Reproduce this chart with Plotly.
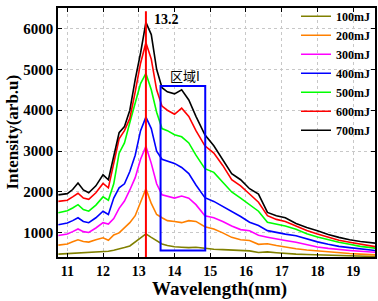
import plotly.graph_objects as go

wavelength = [10.75, 11.0, 11.15, 11.3, 11.45, 11.6, 11.8, 12.0, 12.15, 12.3, 12.45, 12.6, 12.75, 12.9,
              13.05, 13.2, 13.35, 13.5, 13.65, 13.8, 14.0, 14.2, 14.4, 14.6, 14.85, 15.1, 15.35, 15.6,
              15.85, 16.1, 16.35, 16.6, 16.85, 17.1, 17.4, 17.7, 18.0, 18.3, 18.6, 18.9, 19.2, 19.5, 19.7]

e100 = [480, 490, 500, 515, 510, 515, 525, 540, 550, 575, 600, 640, 680, 780, 870, 975, 890, 800, 730, 690,
        660, 650, 640, 650, 620, 600, 590, 575, 560, 560, 520, 535, 515, 495, 480, 470, 460, 450, 445, 440,
        432, 425, 420]
e200 = [700, 730, 780, 830, 790, 775, 830, 880, 820, 950, 1000, 1130, 1250, 1420, 1750, 2080, 1720, 1450,
        1370, 1300, 1280, 1250, 1300, 1280, 1150, 1095, 1000, 890, 830, 815, 720, 735, 690, 650, 610, 580,
        555, 530, 510, 495, 480, 465, 458]
e300 = [935, 970, 1030, 1095, 1030, 1010, 1120, 1250, 1215, 1350, 1600, 1780, 2050, 2350, 2800, 3120, 2700,
        2200, 1930, 1900, 1850, 1900, 1850, 1690, 1420, 1370, 1280, 1170, 1080, 1050, 940, 895, 850, 815,
        770, 710, 655, 620, 590, 570, 550, 530, 520]
e400 = [1200, 1240, 1300, 1370, 1280, 1250, 1370, 1530, 1450, 1850, 2100, 2200, 2500, 2900, 3500, 3830, 3550,
        3000, 2800, 2750, 2700, 2600, 2450, 2170, 1860, 1770, 1650, 1520, 1400, 1260, 1180, 1055, 1010, 970,
        930, 850, 780, 720, 670, 640, 610, 580, 560]
e500 = [1490, 1540, 1610, 1690, 1570, 1530, 1680, 1880, 1800, 2200, 2950, 3200, 3700, 4200, 4650, 4900, 4500,
        3950, 3550, 3500, 3400, 3350, 3200, 2900, 2570, 2480, 2250, 2000, 1850, 1700, 1530, 1260, 1210, 1170,
        1090, 980, 900, 830, 770, 720, 670, 640, 615]
e600 = [1770, 1800, 1880, 1970, 1850, 1820, 1980, 2210, 2100, 2700, 3300, 3500, 3800, 4450, 5150, 5650, 5250,
        4500, 4100, 4000, 3900, 4050, 3850, 3500, 3130, 2950, 2650, 2300, 2150, 1950, 1750, 1420, 1330, 1280,
        1160, 1060, 975, 900, 820, 770, 730, 680, 650]
e700 = [1930, 1960, 2060, 2220, 2050, 1980, 2150, 2420, 2300, 2900, 3450, 3600, 4000, 4750, 5400, 6150, 5850,
        5000, 4550, 4450, 4400, 4500, 4250, 3850, 3400, 3130, 2800, 2450, 2300, 2080, 1950, 1500, 1420, 1370,
        1230, 1130, 1050, 960, 890, 830, 790, 760, 740]

series_names = ["100mJ", "200mJ", "300mJ", "400mJ", "500mJ", "600mJ", "700mJ"]
series_values = [e100, e200, e300, e400, e500, e600, e700]
colors = ["#808000", "#FF8000", "#FF00FF", "#0000FF", "#00FF00", "#FF0000", "#000000"]

x_ticks = [11, 12, 13, 14, 15, 16, 17, 18, 19]
y_ticks = [1000, 2000, 3000, 4000, 5000, 6000]

peak_wl = 13.2
region = [13.61, 14.86, 570, 4590]

font_serif = "Liberation Serif, Times New Roman, serif"

fig = go.Figure()
for name, vals, c in zip(series_names, series_values, colors):
    fig.add_trace(go.Scatter(x=wavelength, y=vals, mode="lines", name="<b>" + name + "</b>",
                             line=dict(color=c, width=1.6)))

fig.add_shape(type="line", x0=peak_wl, x1=peak_wl, y0=0, y1=6420, xref="x", yref="y",
              line=dict(color="#FF0000", width=2))
fig.add_shape(type="rect", x0=region[0], x1=region[1], y0=region[2], y1=region[3], xref="x", yref="y",
              line=dict(color="#0000FF", width=2))

fig.add_annotation(x=13.77, y=6230, text="<b>13.2</b>", showarrow=False,
                   font=dict(family=font_serif, size=14, color="black"))
fig.add_annotation(x=14.28, y=4860, text="区域I", showarrow=False,
                   font=dict(family="Noto Sans CJK SC", size=13, color="black"))

# axis titles as paper annotations
fig.add_annotation(x=0.51, y=-0.13, xref="paper", yref="paper", xanchor="center", yanchor="middle",
                   text="<b>Wavelength(nm)</b>", showarrow=False,
                   font=dict(family=font_serif, size=19, color="black"))
fig.add_annotation(x=-0.145, y=0.5, xref="paper", yref="paper", xanchor="center", yanchor="middle",
                   textangle=-90, text="<b>Intensity(arb.u)</b>", showarrow=False,
                   font=dict(family=font_serif, size=17, color="black"))

axis_common = dict(showline=True, linecolor="black", linewidth=1.5, mirror="ticks",
                   ticks="inside", ticklen=4, tickwidth=1.2, tickcolor="black",
                   showgrid=True, gridcolor="#c8c8c8", griddash="dot", gridwidth=1,
                   zeroline=False, automargin=False)

fig.update_xaxes(range=[10.74, 19.61], tickvals=x_ticks,
                 ticktext=["<b>%d</b>" % v for v in x_ticks],
                 tickfont=dict(family=font_serif, size=14, color="black"), **axis_common)
fig.update_yaxes(range=[410, 6500], tickvals=y_ticks,
                 ticktext=["<b>%d</b>" % v for v in y_ticks],
                 tickfont=dict(family=font_serif, size=15, color="black"), **axis_common)

fig.update_layout(
    width=378, height=301,
    margin=dict(l=58, r=3, t=2, b=44),
    paper_bgcolor="white", plot_bgcolor="white",
    showlegend=True,
    legend=dict(x=1.0, y=1.025, xanchor="right", yanchor="top",
                bgcolor="rgba(0,0,0,0)", borderwidth=0,
                font=dict(family=font_serif, size=12, color="black"),
                tracegroupgap=0, itemwidth=30),
)

fig.write_html("out.html", config={"displayModeBar": False},
               post_script="document.body.style.margin='0';document.body.style.overflow='hidden';")
